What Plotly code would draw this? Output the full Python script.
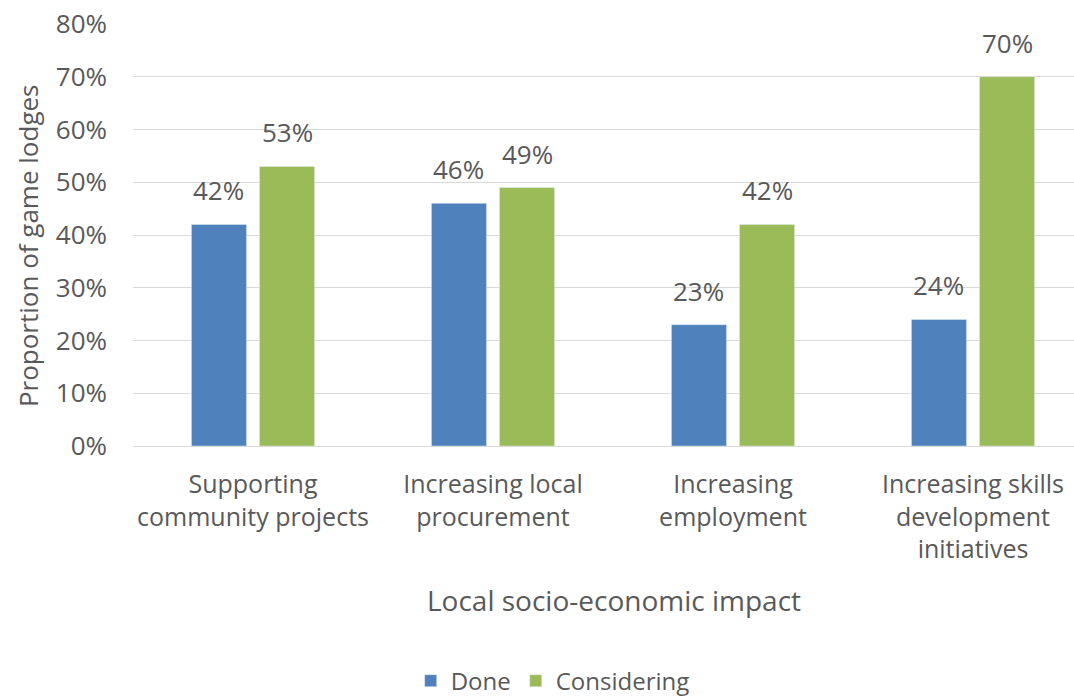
import plotly.graph_objects as go

categories = ["Supporting<br>community projects", "Increasing local<br>procurement",
              "Increasing<br>employment", "Increasing skills<br>development<br>initiatives"]
done = [0.42, 0.46, 0.23, 0.24]
considering = [0.53, 0.49, 0.42, 0.70]
series_names = ["Done", "Considering"]
colors = ["#4F81BD", "#9BBB59"]

FONT = "Open Sans"
GRAY = "#595959"

fig = go.Figure()
annotations = []
offsets = [-0.1417, 0.1417]  # bar centre offset within category (fraction of category)
for name, vals, col, off in zip(series_names, [done, considering], colors, offsets):
    xs = list(range(len(categories)))
    fig.add_trace(go.Bar(x=xs, y=vals, name=name, marker_color=col))
    for xi, v in zip(xs, vals):
        annotations.append(dict(x=xi + off, y=v, xref="x", yref="y", text=f"{round(v*100)}%",
                                showarrow=False, yanchor="bottom", xanchor="center", yshift=14,
                                font=dict(family=FONT, size=26, color=GRAY)))

annotations.append(dict(text="Local socio-economic impact", xref="paper", yref="paper",
                        x=0.511, y=-0.365, xanchor="center", yanchor="middle", showarrow=False,
                        font=dict(family=FONT, size=28, color=GRAY)))
annotations.append(dict(text="Proportion of game lodges", xref="paper", yref="paper",
                        x=-0.1116, y=0.476, xanchor="center", yanchor="middle", showarrow=False,
                        textangle=-90, font=dict(family=FONT, size=26, color=GRAY)))

fig.update_layout(
    width=1074, height=700,
    margin=dict(l=133, r=0, t=24, b=254),
    paper_bgcolor="white", plot_bgcolor="white",
    barmode="group", bargap=0.433, bargroupgap=0.19,
    font=dict(family=FONT, size=24, color=GRAY),
    showlegend=True,
    legend=dict(orientation="h", x=0.446, xanchor="center", yref="container", y=0.027,
                yanchor="middle", font=dict(family=FONT, size=24, color=GRAY), traceorder="normal"),
    xaxis=dict(tickvals=list(range(len(categories))), ticktext=categories,
               range=[-0.5, -0.5 + 941/240], showgrid=False, zeroline=False, automargin=False,
               showline=True, linecolor="#D9D9D9", ticks="", ticklabelstandoff=16,
               tickfont=dict(size=25, color=GRAY)),
    yaxis=dict(range=[0, 0.8], dtick=0.1, tickformat=".0%", showgrid=True, gridcolor="#D9D9D9",
               zeroline=False, ticks="", automargin=False, ticklabelstandoff=25,
               tickfont=dict(size=26, color=GRAY)),
    annotations=annotations,
)

fig.write_html("out.html")
